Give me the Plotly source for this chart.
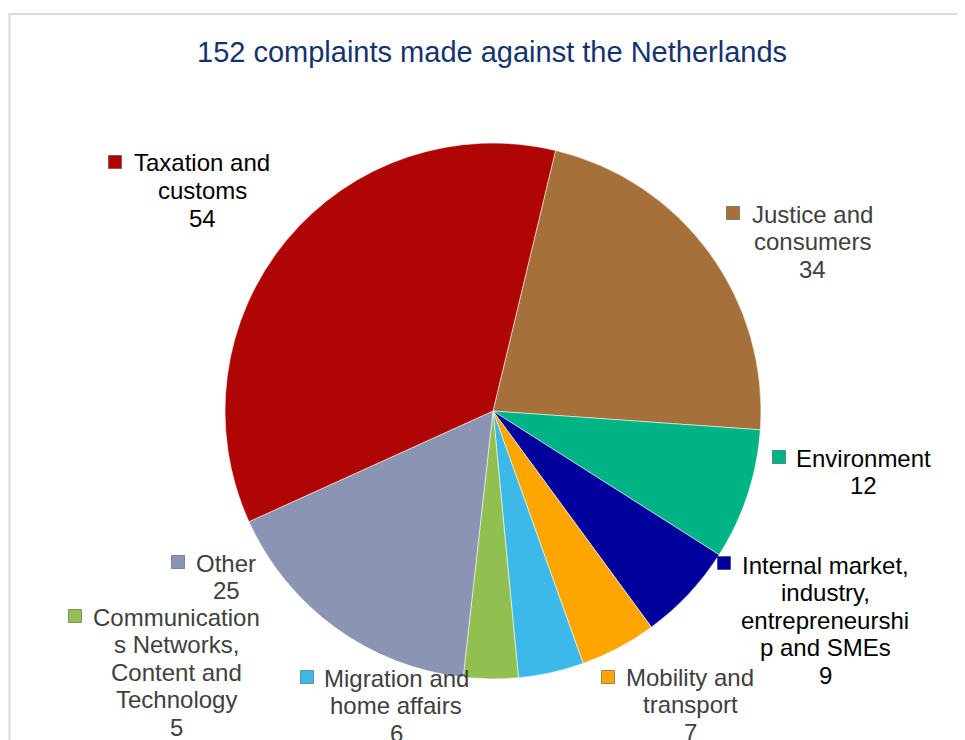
import plotly.graph_objects as go

# Chart data (clockwise from the Justice slice)
categories = ['Justice and consumers', 'Environment',
	'Internal market, industry, entrepreneurship and SMEs',
	'Mobility and transport', 'Migration and home affairs',
	'Communications Networks, Content and Technology', 'Other',
	'Taxation and customs']
values = [34, 12, 9, 7, 6, 5, 25, 54]
# Label text as wrapped in the original chart
wrapped = [['Justice and', 'consumers'], ['Environment'],
	['Internal market,', 'industry,', 'entrepreneurshi', 'p and SMEs'],
	['Mobility and', 'transport'], ['Migration and', 'home affairs'],
	['Communication', 's Networks,', 'Content and', 'Technology'], ['Other'],
	['Taxation and', 'customs']]
colors = ['#A5703A', '#00B385', '#00009C', '#FFA500', '#3DB9E9', '#92C050', '#8B94B2', '#B00505']
textcolors = ['#404040', '#000000', '#000000', '#404040', '#404040', '#404040', '#404040', '#000000']

title = '152 complaints made against the Netherlands'

# Layout in pixels of the 965x740 page (page body adds an 8px offset)
W = 965; H = 740
OFF = 8
cx = 493; cy = 411; rad = 268
# label placement: text centre x, first line y, legend key x, key y
labelpos = [(812, 214, 733, 213), (863, 458, 779, 457), (825, 565, 724, 563),
	(690, 677, 608, 677), (396, 678, 307, 677), (176, 617, 75, 616),
	(226, 563, 178, 562), (202, 163, 115, 162)]
linestep = 27.5

def px(x):
	return (x - OFF) / W

def py(y):
	return 1 - (y - OFF) / H

fig = go.Figure()
fig.add_trace(go.Pie(labels=categories, values=values, sort=False,
	direction='clockwise', rotation=13.5,
	marker=dict(colors=colors, line=dict(color='rgba(255,255,255,0.55)', width=1)),
	textinfo='none', hoverinfo='label+value',
	domain=dict(x=[px(cx - rad), px(cx + rad)], y=[py(cy + rad), py(cy - rad)]),
	showlegend=False))

annotations = []
for i in range(len(categories)):
	tx, ty, kx, ky = labelpos[i]
	lines = wrapped[i] + [str(values[i])]
	for j in range(len(lines)):
		annotations.append(dict(x=px(tx), y=py(ty + j * linestep), xref='paper', yref='paper',
			text=lines[j], showarrow=False, xanchor='center', yanchor='middle',
			font=dict(family='Liberation Sans, Arial', size=24, color=textcolors[i])))
	# legend key square
	annotations.append(dict(x=px(kx), y=py(ky), xref='paper', yref='paper',
		text=' ', showarrow=False, xanchor='center', yanchor='middle',
		width=12, height=12, bgcolor=colors[i], bordercolor='rgba(0,0,0,0.35)', borderwidth=1,
		borderpad=0, font=dict(size=6)))

annotations.append(dict(x=px(492), y=py(52), xref='paper', yref='paper', text=title,
	showarrow=False, xanchor='center', yanchor='middle',
	font=dict(family='Liberation Sans, Arial', size=29, color='#14336E')))

fig.update_layout(width=W, height=H, margin=dict(l=0, r=0, t=0, b=0),
	paper_bgcolor='white', plot_bgcolor='white', annotations=annotations,
	shapes=[dict(type='rect', xref='paper', yref='paper', x0=px(9.5), y0=-0.1, x1=1.1, y1=py(14),
		line=dict(color='#D9D9D9', width=2), fillcolor='rgba(0,0,0,0)', layer='below')])

fig.write_html('out.html')
